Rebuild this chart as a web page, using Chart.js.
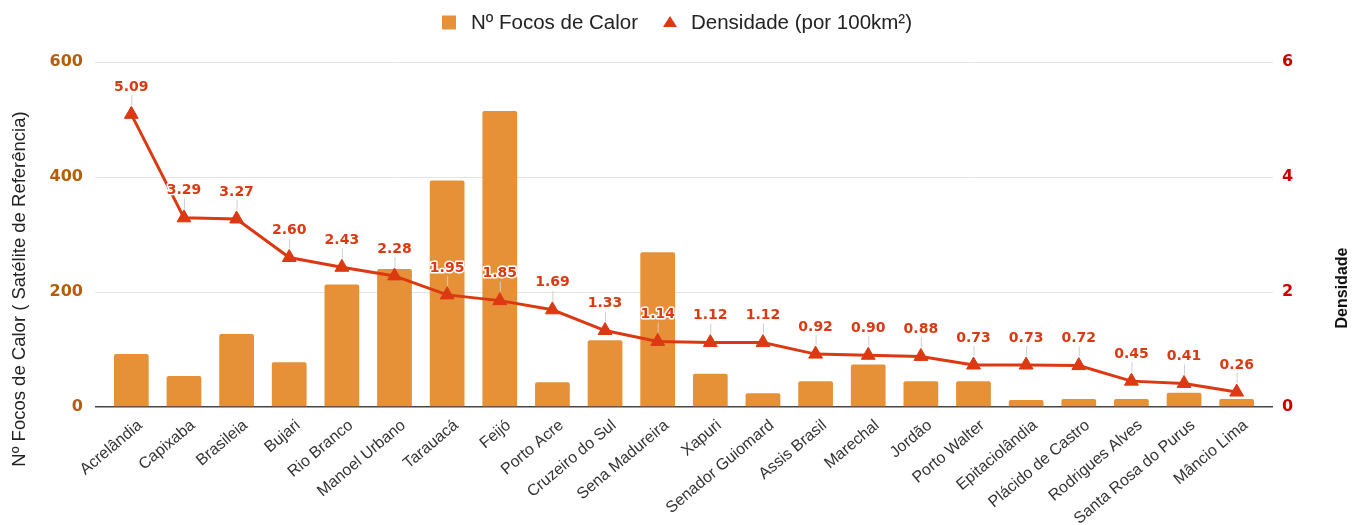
<!DOCTYPE html>
<html>
<head>
<meta charset="utf-8">
<script src="https://cdn.jsdelivr.net/npm/chart.js@4"></script>
<style>
  html, body { margin: 0; padding: 0; background: #fff; }
  #wrap { width: 1354px; height: 525px; }
</style>
</head>
<body>
<div id="wrap"><canvas id="chart"></canvas></div>
<script>
// dados
const municipios = ['Acrelândia', 'Capixaba', 'Brasileia', 'Bujari', 'Rio Branco', 'Manoel Urbano',
    'Tarauacá', 'Feijó', 'Porto Acre', 'Cruzeiro do Sul', 'Sena Madureira', 'Xapuri',
    'Senador Guiomard', 'Assis Brasil', 'Marechal', 'Jordão', 'Porto Walter', 'Epitaciolândia',
    'Plácido de Castro', 'Rodrigues Alves', 'Santa Rosa do Purus', 'Mâncio Lima'];
const focos = [92, 54, 127, 78, 213, 240, 394, 515, 43, 116, 269, 58, 24, 45, 74, 45, 45, 12, 14, 14, 25, 14];
const densidade = [5.09, 3.29, 3.27, 2.60, 2.43, 2.28, 1.95, 1.85, 1.69, 1.33, 1.14, 1.12, 1.12, 0.92,
    0.90, 0.88, 0.73, 0.73, 0.72, 0.45, 0.41, 0.26];
const focosTicks = [0, 200, 400, 600];
const densTicks = [0, 2, 4, 6];

const leftTitle = 'Nº Focos de Calor ( Satélite de Referência)';
const rightTitle = 'Densidade';
const legendFocos = 'Nº Focos de Calor';
const legendDens = 'Densidade (por 100km²)';

const SANS = '"Liberation Sans", Arial, sans-serif';
const WIDE = '"DejaVu Sans", Verdana, sans-serif';
const RED = '#dc3912';
const ORANGE = '#e69138';

const gridColor = c => (c.tick && c.tick.value === 0) ? '#444' : '#e3e3e3';
const gridWidth = c => (c.tick && c.tick.value === 0) ? 1.5 : 1;

// legenda desenhada à mão (triângulo achatado como no original)
const topLegend = {
    id: 'topLegend',
    afterDraw(chart) {
        const ctx = chart.ctx;
        ctx.save();
        ctx.font = '20.5px ' + SANS;
        ctx.textBaseline = 'alphabetic';
        ctx.textAlign = 'left';
        const w1 = ctx.measureText(legendFocos).width;
        const w2 = ctx.measureText(legendDens).width;
        const total = 14 + 15 + w1 + 25 + 14 + 14 + w2;
        let x = chart.width / 2 - total / 2;
        ctx.fillStyle = ORANGE;
        ctx.fillRect(x, 15.5, 14, 14);
        x += 14 + 15;
        ctx.fillStyle = '#222';
        ctx.fillText(legendFocos, x, 28.5);
        x += w1 + 25;
        ctx.fillStyle = RED;
        ctx.beginPath();
        ctx.moveTo(x + 7, 16);
        ctx.lineTo(x + 14, 27);
        ctx.lineTo(x, 27);
        ctx.closePath();
        ctx.fill();
        x += 14 + 14;
        ctx.fillStyle = '#222';
        ctx.fillText(legendDens, x, 28.5);
        ctx.restore();
    }
};

// rótulos de valor com linha guia
const valueLabels = {
    id: 'valueLabels',
    afterDatasetsDraw(chart) {
        const ctx = chart.ctx;
        const meta = chart.getDatasetMeta(0);
        ctx.save();
        ctx.font = 'bold 14px ' + WIDE;
        ctx.textAlign = 'center';
        ctx.textBaseline = 'middle';
        meta.data.forEach((pt, i) => {
            ctx.strokeStyle = '#cfcfcf';
            ctx.lineWidth = 1;
            ctx.beginPath();
            ctx.moveTo(pt.x + 0.5, pt.y - 9);
            ctx.lineTo(pt.x + 0.5, pt.y - 19);
            ctx.stroke();
            const txt = densidade[i].toFixed(2);
            ctx.strokeStyle = '#fff';
            ctx.lineWidth = 3;
            ctx.lineJoin = 'round';
            ctx.strokeText(txt, pt.x, pt.y - 27);
            ctx.fillStyle = RED;
            ctx.fillText(txt, pt.x, pt.y - 27);
        });
        ctx.restore();
    }
};

// títulos dos eixos
const axisTitles = {
    id: 'axisTitles',
    afterDraw(chart) {
        const ctx = chart.ctx;
        ctx.save();
        ctx.textAlign = 'center';
        ctx.textBaseline = 'middle';
        ctx.fillStyle = '#222';
        ctx.font = '18.5px ' + SANS;
        ctx.translate(20, 289);
        ctx.rotate(-Math.PI / 2);
        ctx.fillText(leftTitle, 0, 0);
        ctx.restore();

        ctx.save();
        ctx.textAlign = 'center';
        ctx.textBaseline = 'middle';
        ctx.fillStyle = '#111';
        ctx.font = 'bold 16px ' + SANS;
        ctx.translate(1343, 288);
        ctx.rotate(-Math.PI / 2);
        ctx.fillText(rightTitle, 0, 0);
        ctx.restore();
    }
};

new Chart(document.getElementById('chart'), {
    data: {
        labels: municipios,
        datasets: [
            {
                type: 'line',
                label: legendDens,
                data: densidade,
                yAxisID: 'y1',
                borderColor: RED,
                backgroundColor: RED,
                borderWidth: 3,
                pointStyle: 'triangle',
                pointRadius: 8,
                pointBackgroundColor: RED,
                pointBorderColor: RED,
                pointBorderWidth: 1,
                tension: 0
            },
            {
                type: 'bar',
                label: legendFocos,
                data: focos,
                yAxisID: 'y',
                backgroundColor: ORANGE,
                borderRadius: 2,
                borderSkipped: 'bottom',
                barPercentage: 0.66,
                categoryPercentage: 1
            }
        ]
    },
    options: {
        responsive: true,
        maintainAspectRatio: false,
        animation: false,
        layout: { padding: { top: 62, left: 0, right: 0, bottom: 0 } },
        plugins: {
            tooltip: { enabled: false },
            legend: { display: false }
        },
        scales: {
            x: {
                offset: true,
                grid: { display: false, drawTicks: false },
                border: { display: false },
                ticks: {
                    autoSkip: false,
                    minRotation: 40,
                    maxRotation: 40,
                    padding: 9,
                    labelOffset: 9,
                    color: '#333',
                    font: { family: SANS, size: 16 }
                },
                afterFit(s) { s.height = 118; }
            },
            y: {
                position: 'left',
                min: focosTicks[0],
                max: focosTicks[focosTicks.length - 1],
                ticks: {
                    stepSize: focosTicks[1] - focosTicks[0],
                    padding: 12,
                    color: '#b45f06',
                    font: { family: WIDE, size: 16, weight: 'bold' }
                },
                grid: { color: gridColor, lineWidth: gridWidth, tickLength: 10 },
                border: { display: false },
                afterFit(s) { s.width = 105; }
            },
            y1: {
                position: 'right',
                min: densTicks[0],
                max: densTicks[densTicks.length - 1],
                ticks: {
                    stepSize: densTicks[1] - densTicks[0],
                    padding: 9,
                    color: '#cc0000',
                    font: { family: WIDE, size: 16, weight: 'bold' }
                },
                grid: { drawOnChartArea: false, color: gridColor, lineWidth: gridWidth, tickLength: 10 },
                border: { display: false },
                afterFit(s) { s.width = 91; }
            }
        }
    },
    plugins: [valueLabels, axisTitles, topLegend]
});
</script>
</body>
</html>
